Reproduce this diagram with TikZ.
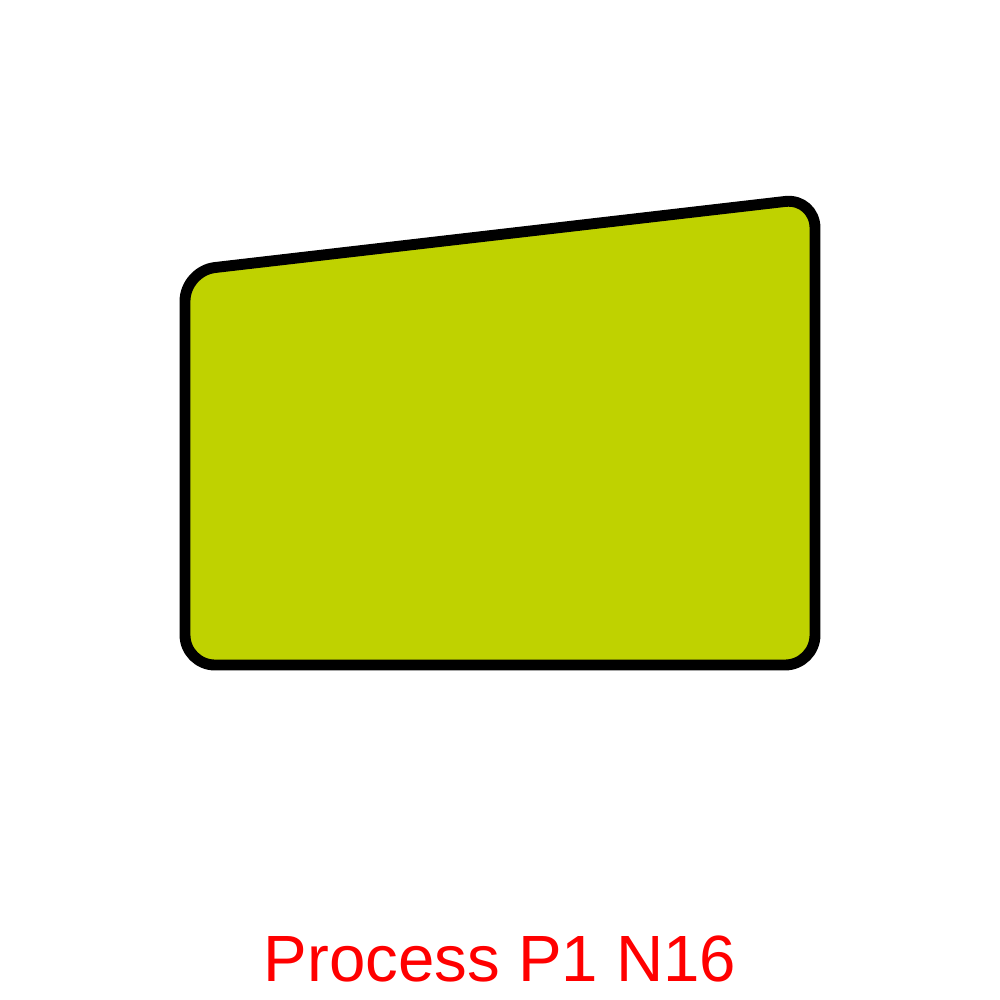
\documentclass[tikz,border=0pt]{standalone}
\usepackage{fontspec}
\setmainfont{Liberation Sans}
\definecolor{limefill}{HTML}{BFD200}
\begin{document}
\begin{tikzpicture}[
        x=0.01cm, y=-0.01cm,
        manualin/.style={draw=black, fill=limefill, line width=3.1pt, rounded corners=0.3cm, line join=round},
        caption/.style={text=red, font=\fontsize{18.6pt}{22pt}\selectfont, inner sep=0pt, anchor=base},
    ]
    \useasboundingbox (0,0) rectangle (1000,1000);
    \draw[manualin] (185,271) -- (815,198) -- (815,665) -- (185,665) -- cycle;
    \node[caption] (label) at (500,981) {Process P1 N16};
\end{tikzpicture}
\end{document}
